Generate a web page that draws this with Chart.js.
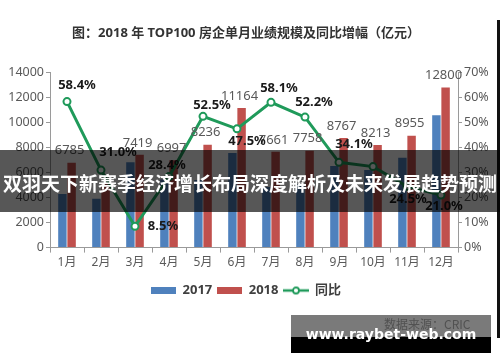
<!DOCTYPE html>
<html>
<head>
<meta charset="utf-8">
<script src="https://cdn.jsdelivr.net/npm/chart.js@4.4.1/dist/chart.umd.min.js"></script>
<style>
  body { margin: 0; background: #fff; width: 500px; height: 362px; overflow: hidden; position: relative; font-family: "Noto Sans", "Noto Sans CJK SC", sans-serif; }
  #wrap { position: absolute; left: 0; top: 0; width: 500px; height: 362px; }
  #banner { position: absolute; left: 0; top: 150px; width: 500px; height: 62px; background: rgba(0,0,0,0.66); color: #fff; font: bold 19px "Noto Sans CJK SC", sans-serif; text-align: center; line-height: 66px; white-space: nowrap; }
  #src { position: absolute; left: 384px; top: 315px; font: 12px "Noto Sans CJK SC", sans-serif; color: #aaa; }
  #mark { position: absolute; left: 291px; top: 315px; width: 200px; height: 22px; background: rgba(0,0,0,0.52); }
  #mark2 { position: absolute; left: 291px; top: 337px; width: 200px; height: 16px; background: #000; }
  #site { position: absolute; left: 291px; top: 325px; width: 200px; text-align: center; font: bold 14px "DejaVu Sans", sans-serif; line-height: 18px; color: #fff; white-space: nowrap; }
  #edge { position: absolute; left: 497px; top: 20px; width: 3px; height: 318px; background: #111; }
</style>
</head>
<body>
<div id="wrap"><canvas id="myChart" width="500" height="362"></canvas></div>
<div id="src">数据来源：CRIC</div>
<div id="mark"></div>
<div id="mark2"></div>
<div id="site">www.raybet-web.com</div>
<div id="edge"></div>
<div id="banner">双羽天下新赛季经济增长布局深度解析及未来发展趋势预测</div>
<script>
var months = ['1月','2月','3月','4月','5月','6月','7月','8月','9月','10月','11月','12月'];
var sales2017 = [4283, 3900, 6838, 5449, 5401, 7569, 4846, 5097, 6538, 6203, 7193, 10579];
var sales2018 = [6785, 5110, 7419, 6997, 8236, 11164, 7661, 7758, 8767, 8213, 8955, 12800];
var growth = [58.4, 31.0, 8.5, 28.4, 52.5, 47.5, 58.1, 52.2, 34.1, 32.4, 24.5, 21.0];
// which labels are printed in the picture
var salesShown = [true, false, true, true, true, true, true, true, true, true, true, true];
var growthShown = [true, true, true, true, true, true, true, true, true, false, true, true];

var blue = '#4f81bd';
var red = '#c0504d';
var green = '#1f9a5a';
var font = '"Noto Sans", "Noto Sans CJK SC", sans-serif';

// offsets of the % labels from their points
var growthOffsets = [[10,-16],[17,-18],[28,0],[-2,-11],[9,-11],[10,12],[8,-14],[9,-15],[15,-18],[0,0],[1,13],[3,11]];

function boxIcon(color){
	var c = document.createElement('canvas');
	c.width = 25; c.height = 7;
	var g = c.getContext('2d');
	g.fillStyle = color;
	g.fillRect(0, 0, 25, 7);
	return c;
}
function lineIcon(){
	var c = document.createElement('canvas');
	c.width = 26; c.height = 10;
	var g = c.getContext('2d');
	g.strokeStyle = green;
	g.lineWidth = 2.5;
	g.beginPath(); g.moveTo(0, 5); g.lineTo(26, 5); g.stroke();
	g.fillStyle = '#fff';
	g.lineWidth = 1.8;
	g.beginPath(); g.arc(13, 5, 3, 0, Math.PI*2); g.fill(); g.stroke();
	return c;
}
var icons = [boxIcon(blue), boxIcon(red), lineIcon()];

var labelPlugin = {
	id: 'labelPlugin',
	afterDatasetsDraw: function(chart){
		var ctx = chart.ctx;
		ctx.save();
		ctx.textAlign = 'center';
		ctx.textBaseline = 'middle';
		// 2018 values
		ctx.font = '13px ' + font;
		ctx.fillStyle = '#595959';
		var bars = chart.getDatasetMeta(1).data;
		for(var i in bars){
			if(!salesShown[i]) continue;
			ctx.fillText(String(sales2018[i]), bars[i].x - 2, bars[i].y - 12);
		}
		// growth labels
		ctx.font = 'bold 13px ' + font;
		ctx.fillStyle = '#1a1a1a';
		var pts = chart.getDatasetMeta(2).data;
		for(var j in pts){
			if(!growthShown[j]) continue;
			ctx.fillText(growth[j].toFixed(1) + '%', pts[j].x + growthOffsets[j][0], pts[j].y + growthOffsets[j][1]);
		}
		ctx.restore();
	}
};

var chartdata = {
	labels: months,
	datasets: [
		{
			type: 'bar',
			label: '2017',
			data: sales2017,
			backgroundColor: blue,
			yAxisID: 'y',
			order: 1,
			barPercentage: 0.92,
			categoryPercentage: 0.54
		},
		{
			type: 'bar',
			label: '2018',
			data: sales2018,
			backgroundColor: red,
			yAxisID: 'y',
			order: 1,
			barPercentage: 0.92,
			categoryPercentage: 0.54
		},
		{
			type: 'line',
			label: '同比',
			data: growth,
			borderColor: green,
			borderWidth: 3,
			pointRadius: 3.5,
			pointBorderWidth: 2,
			pointBackgroundColor: '#fff',
			pointBorderColor: green,
			tension: 0,
			yAxisID: 'y1',
			order: 0
		}
	]
};

var ctx = document.getElementById('myChart');
var myChart = new Chart(ctx, {
	type: 'bar',
	data: chartdata,
	plugins: [labelPlugin],
	options: {
		responsive: false,
		animation: false,
		layout: { padding: { left: 0, right: 8, top: 0, bottom: 55 } },
		plugins: {
			title: {
				display: true,
				text: '图：2018 年 TOP100 房企单月业绩规模及同比增幅（亿元）',
				color: '#333',
				font: { family: font, size: 13, weight: 'bold' },
				padding: { top: 25, bottom: 32 }
			},
			legend: {
				position: 'bottom',
				labels: {
					usePointStyle: true,
					pointStyleWidth: 25,
					padding: 5,
					color: '#404040',
					font: { family: font, size: 13, weight: 'bold' },
					sort: function(a, b){ return a.datasetIndex - b.datasetIndex; },
					generateLabels: function(chart){
						var items = Chart.defaults.plugins.legend.labels.generateLabels(chart);
						items.forEach(function(it){ it.pointStyle = icons[it.datasetIndex]; });
						return items;
					}
				}
			},
			tooltip: { enabled: false }
		},
		scales: {
			x: {
				afterFit: function(s){ s.height += 6; },
				grid: { display: true, drawOnChartArea: false, tickLength: 5, color: '#9a9a9a', offset: true },
				border: { color: '#9a9a9a' },
				ticks: { color: '#595959', font: { family: font, size: 12 }, padding: 3, maxRotation: 0 }
			},
			y: {
				position: 'left',
				min: 0, max: 14000,
				afterFit: function(s){ s.width = 50; },
				grid: { drawOnChartArea: false, tickLength: 4, color: '#9a9a9a' },
				border: { color: '#9a9a9a' },
				ticks: { stepSize: 2000, color: '#595959', font: { family: font, size: 12.5 }, padding: 2,
					callback: function(v){ return String(v); } }
			},
			y1: {
				position: 'right',
				min: 0, max: 70,
				afterFit: function(s){ s.width = 34; },
				grid: { drawOnChartArea: false, tickLength: 4, color: '#9a9a9a' },
				border: { color: '#9a9a9a' },
				ticks: { stepSize: 10, color: '#595959', font: { family: font, size: 12.5 }, padding: 2,
					callback: function(v){ return v + '%'; } }
			}
		}
	}
});
</script>
</body>
</html>
